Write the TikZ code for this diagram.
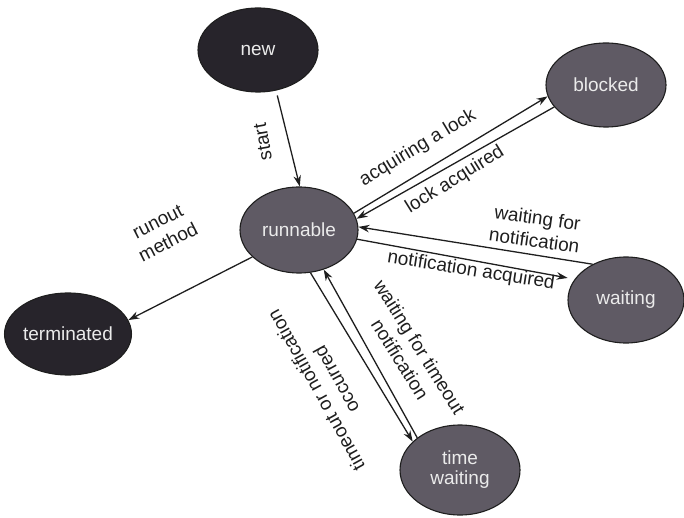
\documentclass[tikz,border=0pt]{standalone}
\usepackage{fontspec}
\setmainfont{Liberation Sans}
\usetikzlibrary{shapes.geometric,arrows.meta}
\definecolor{darkstate}{HTML}{27242B}
\definecolor{greystate}{HTML}{5F5A64}
\definecolor{ink}{HTML}{1E1E1E}
\begin{document}
\begin{tikzpicture}[x=1pt,y=1pt,
  state/.style={ellipse, draw=ink, line width=1.1pt, inner sep=0pt,
    text=white!92!black, font=\fontsize{19}{22}\selectfont, align=center},
  darkst/.style={state, fill=darkstate},
  greyst/.style={state, fill=greystate},
  lbl/.style={font=\fontsize{19}{23}\selectfont, text=ink, align=center, inner sep=0pt},
  trans/.style={draw=ink, line width=1.3pt, -{Stealth[length=11pt,width=7.5pt]}}]
\useasboundingbox (0,0) rectangle (684,-518);

% thread states
\node[darkst, minimum width=120pt, minimum height=84pt] (new) at (258,-50) {new};
\node[greyst, minimum width=118pt, minimum height=86pt] (run) at (299,-230) {runnable};
\node[greyst, minimum width=120pt, minimum height=84pt] (blk) at (606,-85) {blocked};
\node[greyst, minimum width=116pt, minimum height=86pt] (wait) at (626,-300) {waiting};
\node[darkst, minimum width=122pt, minimum height=82pt] (term) at (68,-334) {terminated};
\node[greyst, minimum width=120pt, minimum height=90pt] (tw) at (460,-470) {time\\[-2pt]waiting};

% transitions
\draw[trans, shorten <=5pt] (new.-66) -- (run.89);
\draw[trans] (run.17) -- (blk.191);
\draw[trans] (blk.203) -- (run.11);
\draw[trans] (wait.133) -- (run.3);
\draw[trans, shorten >=7pt] (run.-9) -- (wait.158);
\draw[trans] (run.210) -- (term.13);
\draw[trans] (run.-75) -- (tw.149);
\draw[trans] (tw.143) -- (run.-58);

% transition labels
\node[lbl, rotate=100] (lstart) at (263,-142) {start};
\node[lbl, rotate=31] (lacq) at (418,-148) {acquiring a lock};
\node[lbl, rotate=32] (llock) at (455,-180) {lock acquired};
\node[lbl, rotate=-8] (lwn) at (536,-229) {waiting for\\notification};
\node[lbl, rotate=-9] (lna) at (471,-271) {notification acquired};
\node[lbl, rotate=27] (lrun) at (163,-232) {runout\\method};
\node[lbl, rotate=-58] (lwt) at (410,-353) {waiting for timeout\\notification};
\node[lbl, rotate=119] (lto) at (326,-385) {timeout or notification\\occurred};
\end{tikzpicture}
\end{document}
